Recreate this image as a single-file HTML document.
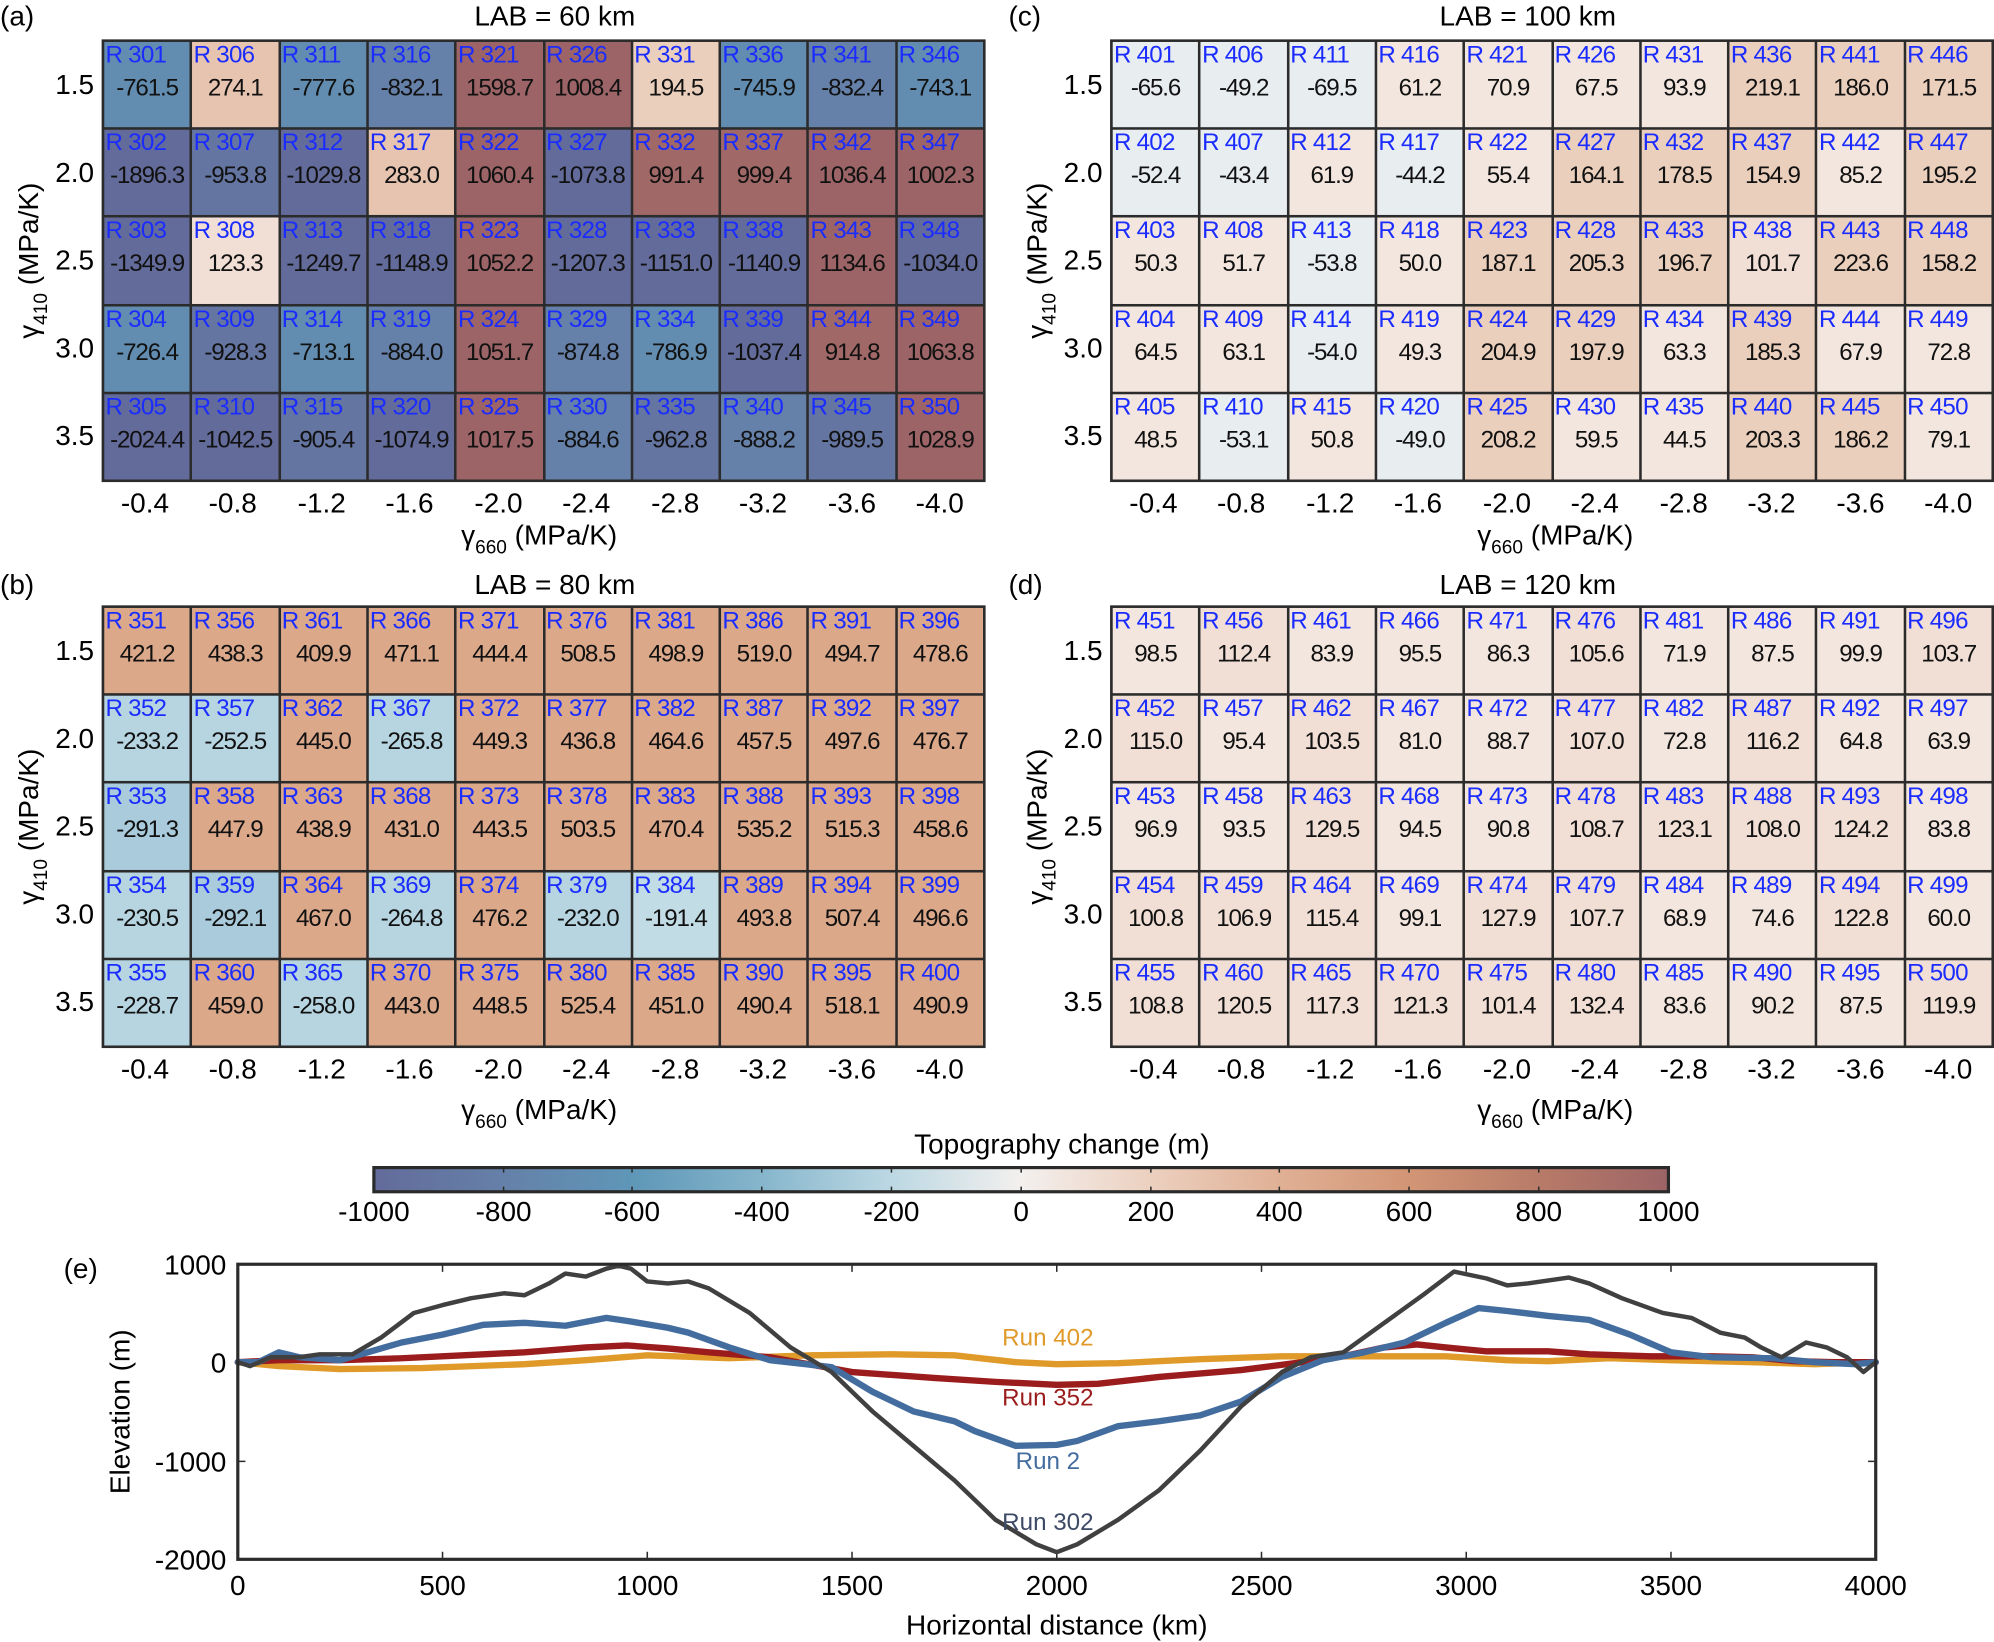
<!DOCTYPE html>
<html><head><meta charset="utf-8">
<style>
html,body{margin:0;padding:0;background:#fff;width:1994px;height:1642px;overflow:hidden}
#w{position:absolute;left:0;top:0;width:1568px;height:1291px;transform:scale(1.27168,1.27188);transform-origin:0 0;font-family:"Liberation Sans",Arial,sans-serif;color:#000}
.t{position:absolute;white-space:nowrap;font-size:22px;line-height:1}
.g{position:absolute;width:695px;height:348px;display:grid;grid-template-columns:repeat(10,1fr);grid-template-rows:repeat(5,1fr);border:2px solid #2b2b2b;box-sizing:border-box;background:#2b2b2b;gap:2px}
.g i{font-style:normal;position:relative;font-size:19px;color:#1a2cff;padding:1px 0 0 1px;line-height:1;letter-spacing:-0.6px;overflow:hidden;white-space:nowrap}
.g i b{font-weight:normal;color:#111;position:absolute;left:-2px;right:-2px;top:27px;text-align:center;letter-spacing:-0.9px}
.n10{background:#636b9b}.n9{background:#6475a2}.n8{background:#6580a9}.n7{background:#628db1}
.n3{background:#a9cbdb}.n2{background:#b6d5e1}.n1{background:#c2dce6}.ne{background:#e8edf0}
.q{background:#f3e6de}.q1{background:#f1dfd5}.q2{background:#ebcfbd}.p3{background:#e7c4b0}
.p5{background:#dba88a}.p9{background:#a06867}.p10{background:#9c6466}
</style></head><body><div id="w">

<div class="t" style="left:0;top:2px">(a)</div>
<div class="t" style="left:373px;top:2px">LAB = 60 km</div>
<div class="g" style="left:80px;top:31px">
<i class="n7">R 301<b>-761.5</b></i><i class="p3">R 306<b>274.1</b></i><i class="n7">R 311<b>-777.6</b></i><i class="n8">R 316<b>-832.1</b></i><i class="p10">R 321<b>1598.7</b></i><i class="p10">R 326<b>1008.4</b></i><i class="q2">R 331<b>194.5</b></i><i class="n7">R 336<b>-745.9</b></i><i class="n8">R 341<b>-832.4</b></i><i class="n7">R 346<b>-743.1</b></i>
<i class="n10">R 302<b>-1896.3</b></i><i class="n9">R 307<b>-953.8</b></i><i class="n10">R 312<b>-1029.8</b></i><i class="p3">R 317<b>283.0</b></i><i class="p10">R 322<b>1060.4</b></i><i class="n10">R 327<b>-1073.8</b></i><i class="p9">R 332<b>991.4</b></i><i class="p9">R 337<b>999.4</b></i><i class="p10">R 342<b>1036.4</b></i><i class="p10">R 347<b>1002.3</b></i>
<i class="n10">R 303<b>-1349.9</b></i><i class="q1">R 308<b>123.3</b></i><i class="n10">R 313<b>-1249.7</b></i><i class="n10">R 318<b>-1148.9</b></i><i class="p10">R 323<b>1052.2</b></i><i class="n10">R 328<b>-1207.3</b></i><i class="n10">R 333<b>-1151.0</b></i><i class="n10">R 338<b>-1140.9</b></i><i class="p10">R 343<b>1134.6</b></i><i class="n10">R 348<b>-1034.0</b></i>
<i class="n7">R 304<b>-726.4</b></i><i class="n9">R 309<b>-928.3</b></i><i class="n7">R 314<b>-713.1</b></i><i class="n8">R 319<b>-884.0</b></i><i class="p10">R 324<b>1051.7</b></i><i class="n8">R 329<b>-874.8</b></i><i class="n7">R 334<b>-786.9</b></i><i class="n10">R 339<b>-1037.4</b></i><i class="p9">R 344<b>914.8</b></i><i class="p10">R 349<b>1063.8</b></i>
<i class="n10">R 305<b>-2024.4</b></i><i class="n10">R 310<b>-1042.5</b></i><i class="n9">R 315<b>-905.4</b></i><i class="n10">R 320<b>-1074.9</b></i><i class="p10">R 325<b>1017.5</b></i><i class="n8">R 330<b>-884.6</b></i><i class="n9">R 335<b>-962.8</b></i><i class="n8">R 340<b>-888.2</b></i><i class="n9">R 345<b>-989.5</b></i><i class="p10">R 350<b>1028.9</b></i>
</div>

<div class="t" style="left:793px;top:2px">(c)</div>
<div class="t" style="left:1132px;top:2px">LAB = 100 km</div>
<div class="g" style="left:873px;top:31px">
<i class="ne">R 401<b>-65.6</b></i><i class="ne">R 406<b>-49.2</b></i><i class="ne">R 411<b>-69.5</b></i><i class="q">R 416<b>61.2</b></i><i class="q">R 421<b>70.9</b></i><i class="q">R 426<b>67.5</b></i><i class="q">R 431<b>93.9</b></i><i class="q2">R 436<b>219.1</b></i><i class="q2">R 441<b>186.0</b></i><i class="q2">R 446<b>171.5</b></i>
<i class="ne">R 402<b>-52.4</b></i><i class="ne">R 407<b>-43.4</b></i><i class="q">R 412<b>61.9</b></i><i class="ne">R 417<b>-44.2</b></i><i class="q">R 422<b>55.4</b></i><i class="q2">R 427<b>164.1</b></i><i class="q2">R 432<b>178.5</b></i><i class="q2">R 437<b>154.9</b></i><i class="q">R 442<b>85.2</b></i><i class="q2">R 447<b>195.2</b></i>
<i class="q">R 403<b>50.3</b></i><i class="q">R 408<b>51.7</b></i><i class="ne">R 413<b>-53.8</b></i><i class="q">R 418<b>50.0</b></i><i class="q2">R 423<b>187.1</b></i><i class="q2">R 428<b>205.3</b></i><i class="q2">R 433<b>196.7</b></i><i class="q1">R 438<b>101.7</b></i><i class="q2">R 443<b>223.6</b></i><i class="q2">R 448<b>158.2</b></i>
<i class="q">R 404<b>64.5</b></i><i class="q">R 409<b>63.1</b></i><i class="ne">R 414<b>-54.0</b></i><i class="q">R 419<b>49.3</b></i><i class="q2">R 424<b>204.9</b></i><i class="q2">R 429<b>197.9</b></i><i class="q">R 434<b>63.3</b></i><i class="q2">R 439<b>185.3</b></i><i class="q">R 444<b>67.9</b></i><i class="q">R 449<b>72.8</b></i>
<i class="q">R 405<b>48.5</b></i><i class="ne">R 410<b>-53.1</b></i><i class="q">R 415<b>50.8</b></i><i class="ne">R 420<b>-49.0</b></i><i class="q2">R 425<b>208.2</b></i><i class="q">R 430<b>59.5</b></i><i class="q">R 435<b>44.5</b></i><i class="q2">R 440<b>203.3</b></i><i class="q2">R 445<b>186.2</b></i><i class="q">R 450<b>79.1</b></i>
</div>

<div class="t" style="left:0;top:449px">(b)</div>
<div class="t" style="left:373px;top:449px">LAB = 80 km</div>
<div class="g" style="left:80px;top:476px">
<i class="p5">R 351<b>421.2</b></i><i class="p5">R 356<b>438.3</b></i><i class="p5">R 361<b>409.9</b></i><i class="p5">R 366<b>471.1</b></i><i class="p5">R 371<b>444.4</b></i><i class="p5">R 376<b>508.5</b></i><i class="p5">R 381<b>498.9</b></i><i class="p5">R 386<b>519.0</b></i><i class="p5">R 391<b>494.7</b></i><i class="p5">R 396<b>478.6</b></i>
<i class="n2">R 352<b>-233.2</b></i><i class="n2">R 357<b>-252.5</b></i><i class="p5">R 362<b>445.0</b></i><i class="n2">R 367<b>-265.8</b></i><i class="p5">R 372<b>449.3</b></i><i class="p5">R 377<b>436.8</b></i><i class="p5">R 382<b>464.6</b></i><i class="p5">R 387<b>457.5</b></i><i class="p5">R 392<b>497.6</b></i><i class="p5">R 397<b>476.7</b></i>
<i class="n3">R 353<b>-291.3</b></i><i class="p5">R 358<b>447.9</b></i><i class="p5">R 363<b>438.9</b></i><i class="p5">R 368<b>431.0</b></i><i class="p5">R 373<b>443.5</b></i><i class="p5">R 378<b>503.5</b></i><i class="p5">R 383<b>470.4</b></i><i class="p5">R 388<b>535.2</b></i><i class="p5">R 393<b>515.3</b></i><i class="p5">R 398<b>458.6</b></i>
<i class="n2">R 354<b>-230.5</b></i><i class="n3">R 359<b>-292.1</b></i><i class="p5">R 364<b>467.0</b></i><i class="n2">R 369<b>-264.8</b></i><i class="p5">R 374<b>476.2</b></i><i class="n2">R 379<b>-232.0</b></i><i class="n1">R 384<b>-191.4</b></i><i class="p5">R 389<b>493.8</b></i><i class="p5">R 394<b>507.4</b></i><i class="p5">R 399<b>496.6</b></i>
<i class="n2">R 355<b>-228.7</b></i><i class="p5">R 360<b>459.0</b></i><i class="n2">R 365<b>-258.0</b></i><i class="p5">R 370<b>443.0</b></i><i class="p5">R 375<b>448.5</b></i><i class="p5">R 380<b>525.4</b></i><i class="p5">R 385<b>451.0</b></i><i class="p5">R 390<b>490.4</b></i><i class="p5">R 395<b>518.1</b></i><i class="p5">R 400<b>490.9</b></i>
</div>

<div class="t" style="left:793px;top:449px">(d)</div>
<div class="t" style="left:1132px;top:449px">LAB = 120 km</div>
<div class="g" style="left:873px;top:476px">
<i class="q">R 451<b>98.5</b></i><i class="q1">R 456<b>112.4</b></i><i class="q">R 461<b>83.9</b></i><i class="q">R 466<b>95.5</b></i><i class="q">R 471<b>86.3</b></i><i class="q1">R 476<b>105.6</b></i><i class="q">R 481<b>71.9</b></i><i class="q">R 486<b>87.5</b></i><i class="q">R 491<b>99.9</b></i><i class="q1">R 496<b>103.7</b></i>
<i class="q1">R 452<b>115.0</b></i><i class="q">R 457<b>95.4</b></i><i class="q1">R 462<b>103.5</b></i><i class="q">R 467<b>81.0</b></i><i class="q">R 472<b>88.7</b></i><i class="q1">R 477<b>107.0</b></i><i class="q">R 482<b>72.8</b></i><i class="q1">R 487<b>116.2</b></i><i class="q">R 492<b>64.8</b></i><i class="q">R 497<b>63.9</b></i>
<i class="q">R 453<b>96.9</b></i><i class="q">R 458<b>93.5</b></i><i class="q1">R 463<b>129.5</b></i><i class="q">R 468<b>94.5</b></i><i class="q">R 473<b>90.8</b></i><i class="q1">R 478<b>108.7</b></i><i class="q1">R 483<b>123.1</b></i><i class="q1">R 488<b>108.0</b></i><i class="q1">R 493<b>124.2</b></i><i class="q">R 498<b>83.8</b></i>
<i class="q1">R 454<b>100.8</b></i><i class="q1">R 459<b>106.9</b></i><i class="q1">R 464<b>115.4</b></i><i class="q">R 469<b>99.1</b></i><i class="q1">R 474<b>127.9</b></i><i class="q1">R 479<b>107.7</b></i><i class="q">R 484<b>68.9</b></i><i class="q">R 489<b>74.6</b></i><i class="q1">R 494<b>122.8</b></i><i class="q">R 499<b>60.0</b></i>
<i class="q1">R 455<b>108.8</b></i><i class="q1">R 460<b>120.5</b></i><i class="q1">R 465<b>117.3</b></i><i class="q1">R 470<b>121.3</b></i><i class="q1">R 475<b>101.4</b></i><i class="q1">R 480<b>132.4</b></i><i class="q">R 485<b>83.6</b></i><i class="q">R 490<b>90.2</b></i><i class="q">R 495<b>87.5</b></i><i class="q1">R 500<b>119.9</b></i>
</div>

<svg width="1568" height="1291" style="position:absolute;left:0;top:0" font-family="Liberation Sans, Arial, sans-serif" font-size="22">
<g text-anchor="end">
<text x="74" y="74">1.5</text><text x="74" y="143">2.0</text><text x="74" y="212">2.5</text><text x="74" y="281">3.0</text><text x="74" y="350">3.5</text>
<text x="867" y="74">1.5</text><text x="867" y="143">2.0</text><text x="867" y="212">2.5</text><text x="867" y="281">3.0</text><text x="867" y="350">3.5</text>
<text x="74" y="519">1.5</text><text x="74" y="588">2.0</text><text x="74" y="657">2.5</text><text x="74" y="726">3.0</text><text x="74" y="795">3.5</text>
<text x="867" y="519">1.5</text><text x="867" y="588">2.0</text><text x="867" y="657">2.5</text><text x="867" y="726">3.0</text><text x="867" y="795">3.5</text>
</g>
<g text-anchor="middle">
<g><text x="114" y="403">-0.4</text><text x="183" y="403">-0.8</text><text x="253" y="403">-1.2</text><text x="322" y="403">-1.6</text><text x="392" y="403">-2.0</text><text x="461" y="403">-2.4</text><text x="531" y="403">-2.8</text><text x="600" y="403">-3.2</text><text x="670" y="403">-3.6</text><text x="739" y="403">-4.0</text></g>
<g transform="translate(793,0)"><text x="114" y="403">-0.4</text><text x="183" y="403">-0.8</text><text x="253" y="403">-1.2</text><text x="322" y="403">-1.6</text><text x="392" y="403">-2.0</text><text x="461" y="403">-2.4</text><text x="531" y="403">-2.8</text><text x="600" y="403">-3.2</text><text x="670" y="403">-3.6</text><text x="739" y="403">-4.0</text></g>
<g transform="translate(0,445)"><text x="114" y="403">-0.4</text><text x="183" y="403">-0.8</text><text x="253" y="403">-1.2</text><text x="322" y="403">-1.6</text><text x="392" y="403">-2.0</text><text x="461" y="403">-2.4</text><text x="531" y="403">-2.8</text><text x="600" y="403">-3.2</text><text x="670" y="403">-3.6</text><text x="739" y="403">-4.0</text></g>
<g transform="translate(793,445)"><text x="114" y="403">-0.4</text><text x="183" y="403">-0.8</text><text x="253" y="403">-1.2</text><text x="322" y="403">-1.6</text><text x="392" y="403">-2.0</text><text x="461" y="403">-2.4</text><text x="531" y="403">-2.8</text><text x="600" y="403">-3.2</text><text x="670" y="403">-3.6</text><text x="739" y="403">-4.0</text></g>
<text x="424" y="428">γ<tspan font-size="15" dy="7">660</tspan><tspan dy="-7"> (MPa/K)</tspan></text>
<text x="1223" y="428">γ<tspan font-size="15" dy="7">660</tspan><tspan dy="-7"> (MPa/K)</tspan></text>
<text x="424" y="880">γ<tspan font-size="15" dy="7">660</tspan><tspan dy="-7"> (MPa/K)</tspan></text>
<text x="1223" y="880">γ<tspan font-size="15" dy="7">660</tspan><tspan dy="-7"> (MPa/K)</tspan></text>
<text transform="translate(30,205) rotate(-90)">γ<tspan font-size="15" dy="7">410</tspan><tspan dy="-7"> (MPa/K)</tspan></text>
<text transform="translate(823,205) rotate(-90)">γ<tspan font-size="15" dy="7">410</tspan><tspan dy="-7"> (MPa/K)</tspan></text>
<text transform="translate(30,650) rotate(-90)">γ<tspan font-size="15" dy="7">410</tspan><tspan dy="-7"> (MPa/K)</tspan></text>
<text transform="translate(823,650) rotate(-90)">γ<tspan font-size="15" dy="7">410</tspan><tspan dy="-7"> (MPa/K)</tspan></text>
</g>

<defs><linearGradient id="cb" x1="0" x2="1" y1="0" y2="0">
<stop offset="0" stop-color="#636b9b"/><stop offset="0.1" stop-color="#6580a9"/><stop offset="0.2" stop-color="#5f97b8"/><stop offset="0.3" stop-color="#86b6cc"/><stop offset="0.4" stop-color="#bcd8e3"/><stop offset="0.5" stop-color="#f3f0ee"/><stop offset="0.6" stop-color="#ecd0bf"/><stop offset="0.7" stop-color="#e0b095"/><stop offset="0.8" stop-color="#d29575"/><stop offset="0.9" stop-color="#b87b68"/><stop offset="1" stop-color="#9c6466"/>
</linearGradient></defs>
<text x="835" y="907" text-anchor="middle">Topography change (m)</text>
<rect x="294" y="918" width="1018" height="19" fill="url(#cb)" stroke="#2b2b2b" stroke-width="2.5"/>
<g stroke="#2b2b2b" stroke-width="1.2">
<path d="M396 918v4M396 937v-4M497 918v4M497 937v-4M599 918v4M599 937v-4M701 918v4M701 937v-4M803 918v4M803 937v-4M905 918v4M905 937v-4M1006 918v4M1006 937v-4M1108 918v4M1108 937v-4M1210 918v4M1210 937v-4"/>
</g>
<g text-anchor="middle">
<text x="294" y="960">-1000</text><text x="396" y="960">-800</text><text x="497" y="960">-600</text><text x="599" y="960">-400</text><text x="701" y="960">-200</text><text x="803" y="960">0</text><text x="905" y="960">200</text><text x="1006" y="960">400</text><text x="1108" y="960">600</text><text x="1210" y="960">800</text><text x="1312" y="960">1000</text>
</g>

<text x="50" y="1005">(e)</text>
<g text-anchor="end">
<text x="178" y="1002">1000</text><text x="178" y="1079">0</text><text x="178" y="1157">-1000</text><text x="178" y="1234">-2000</text>
</g>
<g text-anchor="middle">
<text x="187" y="1254">0</text><text x="348" y="1254">500</text><text x="509" y="1254">1000</text><text x="670" y="1254">1500</text><text x="831" y="1254">2000</text><text x="992" y="1254">2500</text><text x="1153" y="1254">3000</text><text x="1314" y="1254">3500</text><text x="1475" y="1254">4000</text>
<text x="831" y="1285">Horizontal distance (km)</text>
<text transform="translate(102,1110) rotate(-90)">Elevation (m)</text>
</g>
<g stroke="#2b2b2b" stroke-width="1.2" fill="none">
<path d="M348 994v6M348 1226v-6M509 994v6M509 1226v-6M670 994v6M670 1226v-6M831 994v6M831 1226v-6M992 994v6M992 1226v-6M1153 994v6M1153 1226v-6M1314 994v6M1314 1226v-6M187 1071h6M1475 1071h-6M187 1149h6M1475 1149h-6"/>
</g>
<g transform="translate(187,1071) scale(0.322,-0.0774)" fill="none" stroke-linejoin="round" stroke-linecap="round">
<polyline vector-effect="non-scaling-stroke" stroke="#e09a2a" stroke-width="5" points="0,0 100,-40 250,-70 450,-60 700,-20 850,20 1000,70 1200,40 1400,70 1600,80 1750,70 1900,0 2000,-20 2150,-10 2350,30 2550,60 2800,60 2950,60 3100,20 3200,10 3350,40 3500,20 3700,0 3850,-20 4000,0"/>
<polyline vector-effect="non-scaling-stroke" stroke="#9b1c1c" stroke-width="5" points="0,0 100,20 250,20 400,40 550,70 700,100 850,150 950,170 1050,140 1150,100 1300,50 1500,-100 1700,-160 1850,-200 2000,-230 2100,-220 2250,-150 2450,-80 2600,0 2700,60 2800,150 2880,180 2950,150 3050,110 3200,110 3300,80 3450,60 3600,60 3700,50 3800,10 3900,0 4000,0"/>
<polyline vector-effect="non-scaling-stroke" stroke="#446d9f" stroke-width="5" points="0,0 50,0 100,100 150,50 250,20 300,80 400,200 500,280 600,380 700,400 800,370 900,450 950,420 1050,350 1100,300 1200,150 1300,20 1450,-50 1550,-300 1650,-500 1750,-600 1800,-700 1900,-850 2000,-840 2050,-800 2150,-650 2250,-600 2350,-540 2450,-400 2550,-150 2650,20 2750,100 2850,200 2950,400 3030,550 3100,520 3200,470 3300,430 3400,280 3500,100 3600,50 3750,40 3850,0 3950,-20 4000,0"/>
<polyline vector-effect="non-scaling-stroke" stroke="#404040" stroke-width="3.5" points="0,0 30,-40 80,50 150,50 200,80 280,80 350,250 430,500 500,580 570,650 650,700 700,680 760,800 800,900 850,870 900,950 930,980 960,950 1000,820 1050,800 1100,820 1150,750 1250,500 1350,150 1450,-100 1550,-500 1650,-850 1750,-1200 1850,-1600 1950,-1850 2000,-1930 2050,-1850 2150,-1600 2250,-1300 2350,-900 2450,-450 2550,-100 2620,50 2700,100 2800,400 2900,700 2970,920 3050,850 3100,780 3150,800 3250,860 3300,800 3380,650 3480,500 3550,450 3620,300 3680,250 3720,150 3770,50 3830,200 3880,150 3930,50 3970,-100 4000,0"/>
</g>
<rect x="187" y="994" width="1288" height="232" fill="none" stroke="#2b2b2b" stroke-width="2.5"/>
<g text-anchor="middle" font-size="19">
<text x="824" y="1058" fill="#e09a2a">Run 402</text>
<text x="824" y="1105" fill="#9b1c1c">Run 352</text>
<text x="824" y="1155" fill="#446d9f">Run 2</text>
<text x="824" y="1203" fill="#3d4a66">Run 302</text>
</g>
</svg>
</div></body></html>
